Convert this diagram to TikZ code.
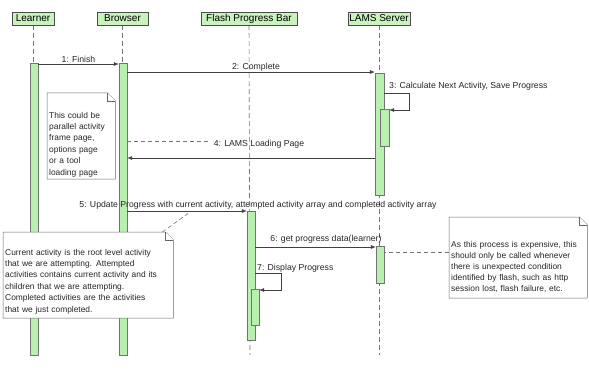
\documentclass[tikz,border=0pt]{standalone}
\usepackage{fontspec}
\setmainfont{Liberation Sans}
\usetikzlibrary{arrows.meta,calc}
\definecolor{hgreen}{RGB}{200,242,190}
\definecolor{bgreen}{RGB}{185,240,175}
\pgfdeclarelayer{back}
\pgfdeclarelayer{mid}
\pgfsetlayers{back,mid,main}
\begin{document}
\begin{tikzpicture}[x=1pt,y=-1pt,
  head/.style={draw=black!70, fill=hgreen, minimum height=13pt, inner sep=1pt, font=\fontsize{10}{11}\selectfont},
  bar/.style={draw=black!55, fill=bgreen, anchor=north, inner sep=0pt},
  life/.style={draw=black!55, dash pattern=on 5pt off 3pt, line width=0.6pt},
  msg/.style={draw=black!75, line width=0.6pt, -{Latex[length=5pt,width=4pt]}},
  lbl/.style={font=\fontsize{8.7}{9}\selectfont, text=black!85, inner sep=1pt},
  note/.style={font=\fontsize{8.4}{11.4}\selectfont, align=left, text=black!85, inner sep=2pt, anchor=south west},
  notebox/.style={draw=black!60, line width=0.5pt, fill=white},
  noteline/.style={draw=black!55, dash pattern=on 4pt off 3pt, line width=0.6pt}
]
\useasboundingbox (0,0) rectangle (589,377);

% headers
\node[head, minimum width=42pt] (hL) at (33,18.5) {Learner};
\node[head, minimum width=51pt] (hB) at (122.5,18.5) {Browser};
\node[head, minimum width=96pt] (hF) at (249,18.5) {Flash Progress Bar};
\node[head, minimum width=62pt] (hS) at (379,18.5) {LAMS Server};

\begin{pgfonlayer}{back}
% lifeline ends
\coordinate (eL) at (33,355);
\coordinate (eB) at (122.5,355);
\coordinate (eF) at (250,355);
\coordinate (eS) at (379,355);
\draw[life] (hL) -- (eL);
\draw[life] (hB) -- (eB);
\draw[life] (hF) -- (eF);
\draw[life] (hS) -- (eS);
% activation bars
\node[bar, minimum width=8pt, minimum height=292pt] (aL) at (34,63) {};
\node[bar, minimum width=8pt, minimum height=292pt] (aB) at (123,63) {};
\node[bar, minimum width=8pt, minimum height=129pt] (aF) at (251,211) {};
\node[bar, minimum width=8pt, minimum height=36pt] (aFn) at (255,289) {};
\node[bar, minimum width=9pt, minimum height=122pt] (aS) at (379.5,73) {};
\node[bar, minimum width=9pt, minimum height=37pt] (aSn) at (384.5,109) {};
\node[bar, minimum width=8pt, minimum height=37pt] (aS2) at (380,246) {};
\end{pgfonlayer}

% 1
\draw[msg] ([yshift=-1pt]aL.north east) -- node[lbl, above] {1: Finish} ([yshift=-1pt]aB.north west);
% 2
\coordinate (m2s) at ([yshift=-9pt]aB.north east);
\draw[msg] (m2s) -- (aS.west |- m2s);
\node[lbl, anchor=south] (l2) at (256,73) {2: Complete};
% 3
\coordinate (m3s) at ([yshift=-20pt]aS.north east);
\draw[msg] (m3s) -- ++(25,0) |- ([yshift=-1pt]aSn.north east);
\node[lbl, anchor=south west] (l3) at (388,92) {3: Calculate Next Activity, Save Progress};
% 4
\coordinate (m4s) at ([yshift=-85pt]aS.north west);
\draw[msg] (m4s) -- (aB.east |- m4s);
\node[lbl] (l4) at (259,144) {4: LAMS Loading Page};
% 5
\draw[msg] (aB.east |- aF.north) -- (aF.north west);
\node[lbl] (l5) at (258,205.5) {5: Update Progress with current activity, attempted activity array and completed activity array};
% 6
\coordinate (m6s) at ([yshift=-36pt]aF.north east);
\draw[msg] (m6s) -- (aS2.west |- m6s);
\node[lbl] (l6) at (326,239) {6: get progress data(learner)};
% 7
\coordinate (m7s) at ([yshift=-62pt]aF.north east);
\draw[msg] (m7s) -- ++(26,0) |- ([yshift=-1pt]aFn.north east);
\node[lbl, anchor=west] (l7) at (256,268.5) {7: Display Progress};

% note 1
\coordinate (n1tl) at (47,93);
\node[note, text width=64pt] (n1) at (47,179) {This could be\\parallel activity\\frame page,\\options page\\or a tool\\loading page};
\begin{pgfonlayer}{mid}
\draw[notebox] (n1.south west) -- (n1.west |- n1tl) -- ($(n1.east |- n1tl)+(-8,0)$) -- ($(n1.east |- n1tl)+(0,8)$) -- (n1.south east) -- cycle;
\draw[notebox] ($(n1.east |- n1tl)+(-8,0)$) -- ($(n1.east |- n1tl)+(-8,8)$) -- ($(n1.east |- n1tl)+(0,8)$);
\end{pgfonlayer}
\coordinate (c1) at (210,141);
\draw[noteline] (aB.east |- c1) -- (c1);

% note 2
\coordinate (n2tl) at (3,232);
\node[note, text width=166pt, inner ysep=4pt] (n2) at (3,318) {Current activity is the root level activity\\that we are attempting. Attempted\\activities contains current activity and its\\children that we are attempting.\\Completed activities are the activities\\that we just completed.};
\begin{pgfonlayer}{mid}
\draw[notebox] (n2.south west) -- (n2.west |- n2tl) -- ($(n2.east |- n2tl)+(-8,0)$) -- ($(n2.east |- n2tl)+(0,8)$) -- (n2.south east) -- cycle;
\draw[notebox] ($(n2.east |- n2tl)+(-8,0)$) -- ($(n2.east |- n2tl)+(-8,8)$) -- ($(n2.east |- n2tl)+(0,8)$);
\end{pgfonlayer}
\coordinate (c2) at (190,212);
\draw[noteline] ($(n2.east |- n2tl)+(-11,0)$) -- (c2);

% note 3
\coordinate (n3tl) at (449,217);
\node[note, text width=134pt, font=\fontsize{8.4}{11}\selectfont, inner ysep=5pt] (n3) at (449,298) {As this process is expensive, this\\should only be called whenever\\there is unexpected condition\\identified by flash, such as http\\session lost, flash failure, etc.};
\begin{pgfonlayer}{mid}
\draw[notebox] (n3.south west) -- (n3.west |- n3tl) -- ($(n3.east |- n3tl)+(-8,0)$) -- ($(n3.east |- n3tl)+(0,8)$) -- (n3.south east) -- cycle;
\draw[notebox] ($(n3.east |- n3tl)+(-8,0)$) -- ($(n3.east |- n3tl)+(-8,8)$) -- ($(n3.east |- n3tl)+(0,8)$);
\end{pgfonlayer}
\coordinate (c3) at ($(aS2.north east)+(0,6)$);
\draw[noteline] (n3.west |- c3) -- (c3);
\end{tikzpicture}
\end{document}
